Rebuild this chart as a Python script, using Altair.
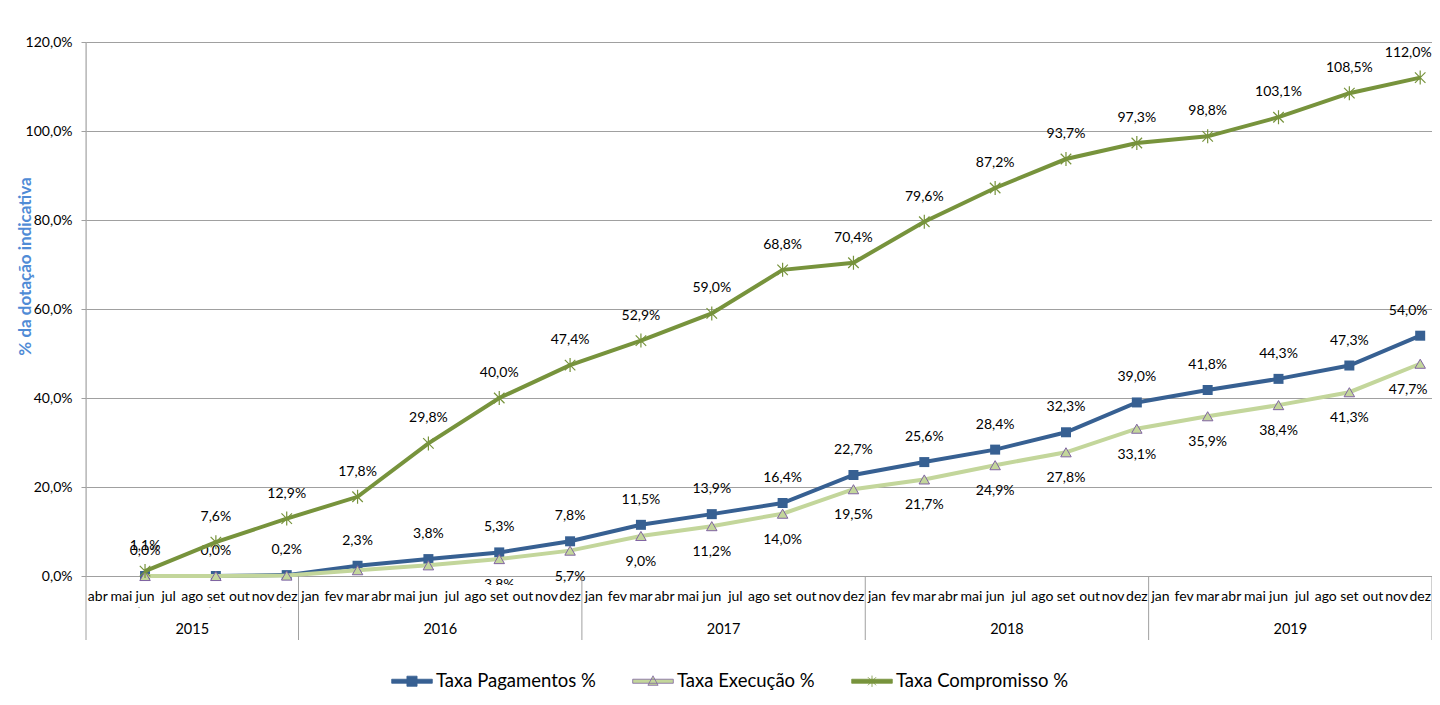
import altair as alt
import pandas as pd

# ---------------- data ----------------
periodos = ["jun 2015", "set 2015", "dez 2015",
            "mar 2016", "jun 2016", "set 2016", "dez 2016",
            "mar 2017", "jun 2017", "set 2017", "dez 2017",
            "mar 2018", "jun 2018", "set 2018", "dez 2018",
            "mar 2019", "jun 2019", "set 2019", "dez 2019"]
pagamentos = [0.0, 0.0, 0.2, 2.3, 3.8, 5.3, 7.8, 11.5, 13.9, 16.4, 22.7,
              25.6, 28.4, 32.3, 39.0, 41.8, 44.3, 47.3, 54.0]
execucao = [0.0, 0.0, 0.1, 1.3, 2.4, 3.8, 5.7, 9.0, 11.2, 14.0, 19.5,
            21.7, 24.9, 27.8, 33.1, 35.9, 38.4, 41.3, 47.7]
compromisso = [1.1, 7.6, 12.9, 17.8, 29.8, 40.0, 47.4, 52.9, 59.0, 68.8, 70.4,
               79.6, 87.2, 93.7, 97.3, 98.8, 103.1, 108.5, 112.0]
series = ["Taxa Pagamentos %", "Taxa Execução %", "Taxa Compromisso %"]
meses = ["jan", "fev", "mar", "abr", "mai", "jun", "jul", "ago", "set", "out", "nov", "dez"]
anos = [2015, 2016, 2017, 2018, 2019]
mes_inicio = "abr"

# ---------------- helpers ----------------
start_idx = meses.index(mes_inicio)


def month_pos(mes, ano):
    return (ano - anos[0]) * 12 + meses.index(mes) - start_idx + 0.5


def fmt(v):
    return f"{v:.1f}".replace(".", ",") + "%"


rows = []
for nome, vals in zip(series, [pagamentos, execucao, compromisso]):
    for p, v in zip(periodos, vals):
        m, a = p.split()
        rows.append({"periodo": p, "x": month_pos(m, int(a)), "serie": nome,
                     "valor": v, "rotulo": fmt(v)})
df = pd.DataFrame(rows)
max_x = float(df["x"].max())

mes_rows = []
ano_rows = []
limites = []
pos = 0
for a in anos:
    lista = meses[start_idx:] if a == anos[0] else meses
    ini = pos
    for m in lista:
        mes_rows.append({"mes": m, "x": pos + 0.5})
        pos += 1
    ano_rows.append({"ano": str(a), "x": (ini + pos) / 2})
    limites.append({"x": pos})
df_mes = pd.DataFrame(mes_rows)
df_ano = pd.DataFrame(ano_rows)
df_lim = pd.DataFrame(limites)
total = pos

W, H = 1346, 534
FONT = "Lato"
C_PAG = "#376092"
C_EXE = "#C3D69B"
C_EXE_EDGE = "#8064A2"
C_COM = "#77933C"
GRID = "#A0A0A0"

xs = alt.Scale(domain=[0, total], nice=False, zero=False)
ys = alt.Scale(domain=[0, 120], nice=False)

X = alt.X("x:Q", scale=xs, axis=None)
Y = alt.Y("valor:Q", scale=ys,
          axis=alt.Axis(values=[0, 20, 40, 60, 80, 100, 120], grid=True,
                        gridColor=GRID, gridWidth=1, domain=False,
                        ticks=True, tickColor=GRID, tickSize=5,
                        labelPadding=9, labelFont=FONT, labelFontSize=14,
                        labelColor="#000000",
                        labelExpr="replace(format(datum.value, '.1f'), '.', ',') + '%'",
                        title="% da dotação indicativa", titleFont=FONT,
                        titleFontSize=17, titleFontWeight="bold",
                        titleColor="#4F8BD6", titleAnchor="middle",
                        titleBaseline="middle", titleX=-61, titleY=224,
                        titleAngle=270))

base = alt.Chart(df)


def serie_layers(nome, color, point_mark, above):
    d = base.transform_filter(alt.datum.serie == nome)
    line = d.mark_line(color=color, strokeWidth=4).encode(x=X, y=Y, order="x:Q")
    pts = d.mark_point(**point_mark).encode(x=X, y=Y)
    dy = -25 if above else 26
    txt = d.transform_filter(alt.datum.x < max_x).mark_text(
        dy=dy, font=FONT, fontSize=14, color="#000000").encode(x=X, y=Y, text="rotulo:N")
    txt_last = d.transform_filter(alt.datum.x >= max_x).mark_text(
        dy=dy, dx=-12, font=FONT, fontSize=14, color="#000000").encode(x=X, y=Y, text="rotulo:N")
    return [line, pts, txt, txt_last]


star_path = "M-0.75,-0.75L0.75,0.75M-0.75,0.75L0.75,-0.75M0,-1V1"

pag_layers = serie_layers(series[0], C_PAG,
                          dict(shape="square", filled=True, color=C_PAG, size=100, opacity=1),
                          True)
exe_layers = serie_layers(series[1], C_EXE,
                          dict(shape="triangle-up", filled=True, fill=C_EXE, stroke=C_EXE_EDGE,
                               strokeWidth=1, size=110, opacity=1),
                          False)
com_layers = serie_layers(series[2], C_COM,
                          dict(shape=star_path, filled=False, stroke=C_COM, strokeWidth=1.2,
                               size=196, opacity=1),
                          True)

# white band of the category axis (covers labels that fall under it)
band = alt.Chart(pd.DataFrame({"a": [0]})).mark_rect(color="white").encode(
    x=alt.value(1), x2=alt.value(W), y=alt.value(H + 9), y2=alt.value(H + 31))

mes_txt = alt.Chart(df_mes).mark_text(font=FONT, fontSize=14, color="#000000",
                                      baseline="middle").encode(
    x=alt.X("x:Q", scale=xs, axis=None), y=alt.value(H + 21), text="mes:N")
ano_txt = alt.Chart(df_ano).mark_text(font=FONT, fontSize=14.5, color="#000000",
                                      baseline="middle").encode(
    x=alt.X("x:Q", scale=xs, axis=None), y=alt.value(H + 54), text="ano:N")
seps = alt.Chart(df_lim).mark_rule(color=GRID, strokeWidth=1).encode(
    x=alt.X("x:Q", scale=xs, axis=None), y=alt.value(H), y2=alt.value(H + 64))
left_line = alt.Chart(pd.DataFrame({"a": [0]})).mark_rule(color=GRID, strokeWidth=1).encode(
    x=alt.value(0), y=alt.value(0), y2=alt.value(H + 64))

# legend (drawn from an invisible, clipped layer)
leg_paths = [
    "M-1,-0.1H1V0.1H-1Z M-0.25,-0.25H0.25V0.25H-0.25Z",
    "M-1,-0.1H1V0.1H-1Z M0,-0.27L0.25,0.2H-0.25Z",
    "M-1,-0.1H1V0.1H-1Z M-0.2,-0.2L0.2,0.2M-0.2,0.2L0.2,-0.2M0,-0.28V0.28",
]
leg = alt.Legend(title=None, orient="none", legendX=305, legendY=618,
                 direction="horizontal", symbolSize=1650, symbolStrokeWidth=0.8,
                 labelFont=FONT, labelFontSize=18.5, labelColor="#000000",
                 labelOffset=3, columnPadding=35, padding=0, labelLimit=400)
legend_layer = alt.Chart(pd.DataFrame({"serie": series})).mark_point(
    clip=True, filled=True, opacity=1, strokeWidth=0.8).encode(
    x=alt.value(-500), y=alt.value(-500),
    fill=alt.Fill("serie:N", scale=alt.Scale(domain=series, range=[C_PAG, C_EXE, C_COM]),
                  legend=leg),
    stroke=alt.Stroke("serie:N", scale=alt.Scale(domain=series, range=[C_PAG, C_EXE_EDGE, C_COM]),
                      legend=leg),
    shape=alt.Shape("serie:N", scale=alt.Scale(domain=series, range=leg_paths), legend=leg),
)

chart = alt.layer(
    left_line, *pag_layers, *exe_layers, band, mes_txt, ano_txt, seps, *com_layers, legend_layer
).properties(
    width=W, height=H,
    autosize="none",
    padding={"left": 78, "top": 34, "right": 0, "bottom": 115},
).configure_view(stroke=None).configure(background="white")

chart.save("out.html", embed_options={"renderer": "svg", "actions": False})
